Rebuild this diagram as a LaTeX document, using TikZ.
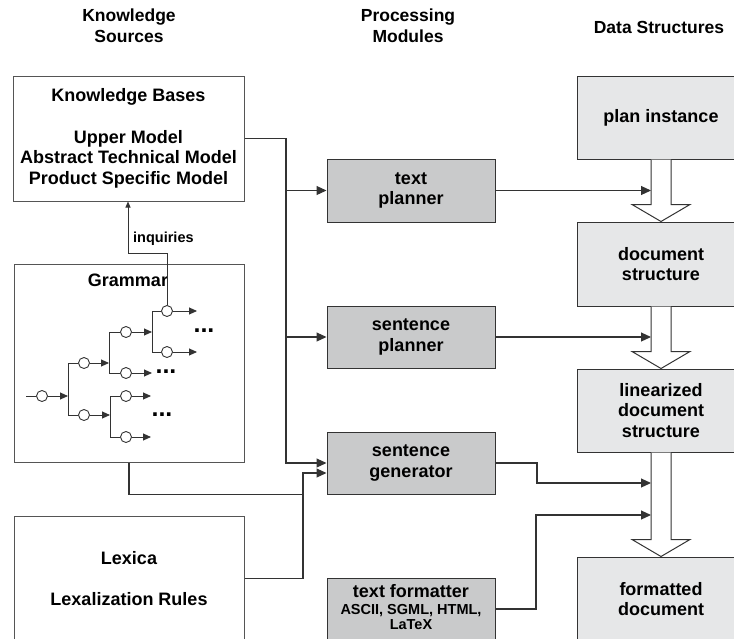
\documentclass[tikz,border=0pt]{standalone}
\usepackage{fontspec}
\setmainfont{Liberation Sans}
\usetikzlibrary{arrows.meta,calc}

\definecolor{ink}{HTML}{333333}
\definecolor{frame}{HTML}{555555}
\definecolor{procfill}{HTML}{C9CACB}
\definecolor{datafill}{HTML}{E6E7E8}

\newcommand\bodyfont{\bfseries\fontsize{18}{20.5}\selectfont}
\newcommand\hdrfont{\bfseries\fontsize{17.5}{21}\selectfont}
\newcommand\smallbold{\bfseries\fontsize{14.5}{16}\selectfont}

% hollow block arrow from the bottom of one data box to the top of the next
\newcommand\dsflow[2]{%
  \draw[fat] ($(#1.south)+(-10,0)$) -- ($(#2.north)+(-10,-17)$)
    -- ($(#2.north)+(-29,-17)$) -- (#2.north) -- ($(#2.north)+(29,-17)$)
    -- ($(#2.north)+(10,-17)$) -- ($(#1.south)+(10,0)$);}

\tikzset{
  ksrc/.style={draw=frame, line width=1pt, fill=white, inner sep=0pt,
    align=center, font=\bodyfont},
  pbox/.style={draw=ink, line width=1pt, fill=procfill, minimum width=168pt,
    minimum height=62pt, inner sep=0pt, align=center, font=\bodyfont},
  dbox/.style={draw=ink, line width=1pt, fill=datafill, minimum width=168pt,
    inner sep=0pt, align=center, font=\bodyfont},
  conn/.style={draw=ink, line width=1.1pt, -{Triangle[length=10pt,width=9pt]}},
  wire/.style={draw=ink, line width=1.1pt},
  twire/.style={draw=ink, line width=0.9pt},
  tarrow/.style={draw=ink, line width=0.9pt, -{Triangle[length=8pt,width=7pt]}},
  inq/.style={draw=ink, line width=0.9pt, -{Triangle[length=6pt,width=5pt]}},
  gnode/.style={circle, draw=ink, fill=white, line width=0.9pt,
    minimum size=11pt, inner sep=0pt},
  fat/.style={draw=ink, line width=1pt, fill=white, line join=miter},
  hdr/.style={font=\hdrfont, inner sep=0pt, anchor=base},
  txt/.style={font=\bodyfont, inner sep=0pt, anchor=base},
  sml/.style={font=\smallbold, inner sep=0pt, anchor=base},
  dots/.style={font=\bfseries\fontsize{25}{25}\selectfont, inner sep=0pt},
}

\begin{document}
\begin{tikzpicture}[x=1pt,y=-1pt]
\useasboundingbox (0,0) rectangle (734,638);
\clip (0,0) rectangle (734,638);

% column headings
\node[hdr] (h1a) at (129,21) {Knowledge};
\node[hdr] (h1b) at (129,42) {Sources};
\node[hdr] (h2a) at (408,21) {Processing};
\node[hdr] (h2b) at (408,42) {Modules};
\node[hdr] (h3)  at (659,33) {Data Structures};

% knowledge sources
\node[ksrc, minimum width=231pt, minimum height=125pt] (kb) at (128.5,138.5)
  {Knowledge Bases\\[21pt]Upper Model\\Abstract Technical Model\\Product Specific Model};
\node[ksrc, minimum width=230pt, minimum height=198pt] (gram) at (129,363) {};
\node[txt] (gramlbl) at (128,286) {Grammar};
\node[ksrc, minimum width=230pt, minimum height=125pt] (lex) at (129,578.5)
  {Lexica\\[21pt]Lexalization Rules};

% processing modules
\node[pbox, minimum height=63pt] (tp) at (411,190.5) {text\\planner};
\node[pbox] (sp)  at (411,337) {sentence\\planner};
\node[pbox] (gen) at (411,463) {sentence\\generator};
\node[pbox] (tf)  at (411,609) {};
\node[txt] (tfa) at (411,597) {text formatter};
\node[sml] (tfb) at (411,614) {ASCII, SGML, HTML,};
\node[sml] (tfc) at (411,629) {LaTeX};

% data structures
\node[dbox, minimum height=83pt] (plan) at (661,117.5) {plan instance};
\node[dbox, minimum height=84pt] (docs) at (661,264) {document\\structure};
\node[dbox, minimum height=83pt] (lin)  at (661,410.5) {linearized\\document\\structure};
\node[dbox, minimum height=84pt] (fmt)  at (661,599) {formatted\\document};

\dsflow{plan}{docs}
\dsflow{docs}{lin}
\dsflow{lin}{fmt}

% grammar network
\coordinate (gin) at (26,396);
\coordinate (b1) at (68,0);
\coordinate (b2) at (109,0);
\coordinate (b3) at (152,0);
\coordinate (b4) at (110,0);
\node[gnode] (g1) at (42,396) {};
\node[gnode] (g2) at (84,363) {};
\node[gnode] (g3) at (126,332) {};
\node[gnode] (g4) at (167,311) {};
\node[gnode] (g5) at (167,352) {};
\node[gnode] (g6) at (126,373) {};
\node[gnode] (g7) at (84,415) {};
\node[gnode] (g8) at (126,396) {};
\node[gnode] (g9) at (126,437) {};
\coordinate (e4) at (197,311);
\coordinate (e5) at (197,352);
\coordinate (e6) at (152,373);
\coordinate (e8) at (151,396);
\coordinate (e9) at (151,437);

\draw[twire] (gin) -- (g1);
\draw[tarrow] (g1) -- (b1 |- g1);
\draw[twire] (b1 |- g2) -- (b1 |- g7);
\draw[twire] (b1 |- g2) -- (g2);
\draw[twire] (b1 |- g7) -- (g7);
\draw[tarrow] (g2) -- (b2 |- g2);
\draw[twire] (b2 |- g3) -- (b2 |- g6);
\draw[twire] (b2 |- g3) -- (g3);
\draw[twire] (b2 |- g6) -- (g6);
\draw[tarrow] (g3) -- (b3 |- g3);
\draw[twire] (b3 |- g4) -- (b3 |- g5);
\draw[twire] (b3 |- g4) -- (g4);
\draw[twire] (b3 |- g5) -- (g5);
\draw[tarrow] (g4) -- (e4);
\draw[tarrow] (g5) -- (e5);
\draw[tarrow] (g6) -- (e6);
\draw[tarrow] (g7) -- (b4 |- g7);
\draw[twire] (b4 |- g8) -- (b4 |- g9);
\draw[twire] (b4 |- g8) -- (g8);
\draw[twire] (b4 |- g9) -- (g9);
\draw[tarrow] (g8) -- (e8);
\draw[tarrow] (g9) -- (e9);
\node[dots] (d1) at (204,331) {...};
\node[dots] (d2) at (166,372) {...};
\node[dots] (d3) at (162,415) {...};

% inquiries from the grammar to the knowledge bases
\coordinate (iq) at (128,253);
\draw[inq] (g4.north) |- (iq) -- (iq |- kb.south);
\node[sml, anchor=base west] (inqlbl) at (133,242) {inquiries};

% knowledge base bus to the processing modules
\coordinate (bus) at (286,0);
\coordinate (gin1) at (gen.west);
\coordinate (gin2) at ($(gen.west)+(0,10)$);
\draw[conn] (kb.east) -| (bus |- gin1) -- (gin1);
\draw[conn] (bus |- tp.west) -- (tp.west);
\draw[conn] (bus |- sp.west) -- (sp.west);

% grammar and lexica to the sentence generator
\coordinate (lbus) at (303,0);
\draw[wire] (gram.south) |- (lbus |- gen.south);
\draw[conn] (lex.east) -| (lbus |- gin2) -- (gin2);

% module outputs into the data structure flow
\coordinate (stem) at (651,0);
\coordinate (jog1) at (537,0);
\coordinate (jog2) at (536,0);
\coordinate (in3) at (651,483);
\coordinate (in4) at (651,515);
\draw[conn] (tp.east) -- (stem |- tp.east);
\draw[conn] (sp.east) -- (stem |- sp.east);
\draw[conn] (gen.east) -| (jog1 |- in3) -- (in3);
\draw[conn] (tf.east) -| (jog2 |- in4) -- (in4);
\end{tikzpicture}
\end{document}
